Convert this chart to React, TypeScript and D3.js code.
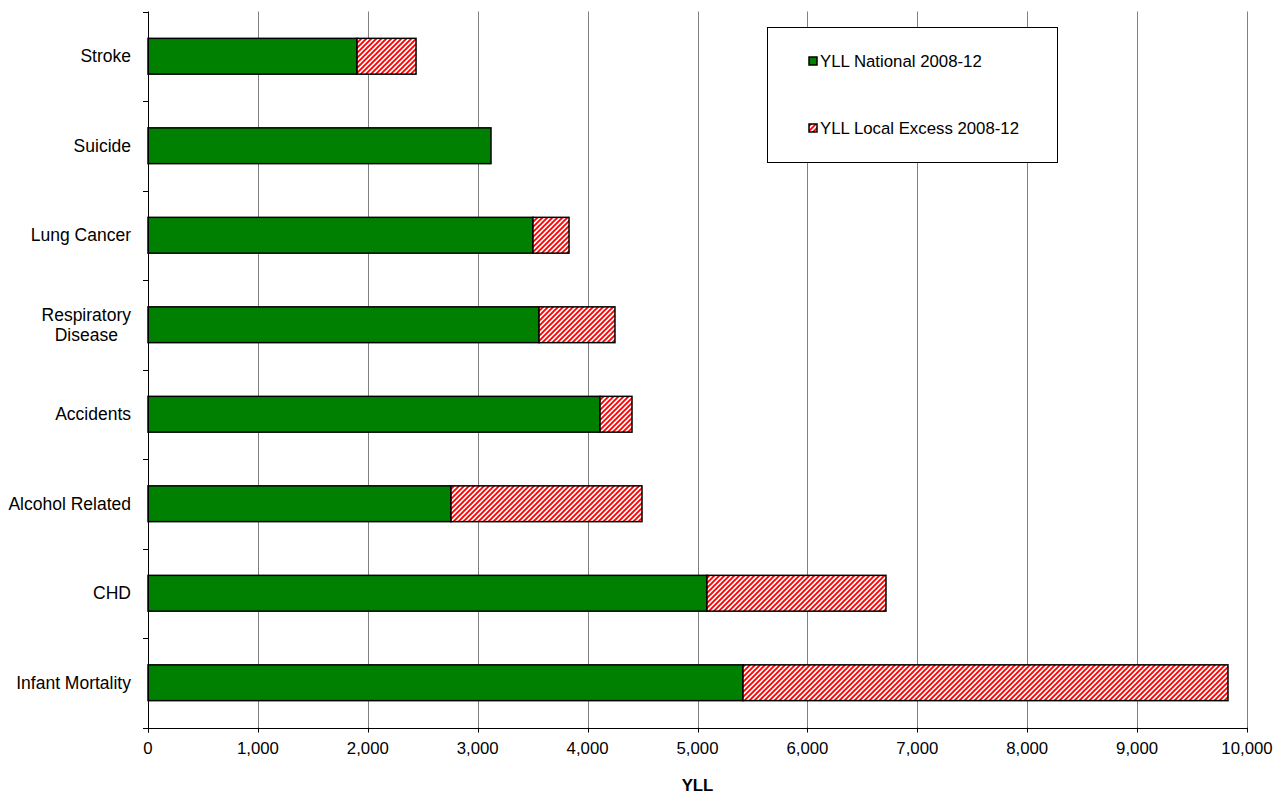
import React, { useEffect, useRef } from "react";
import * as d3 from "d3";

const categories = ["Stroke", "Suicide", "Lung Cancer", "Respiratory Disease", "Accidents", "Alcohol Related", "CHD", "Infant Mortality"];
const nationalValues = [1902, 3121, 3503, 3558, 4113, 2757, 5086, 5414];
const totalValues = [2439, 3121, 3831, 4249, 4404, 4495, 6715, 9827];
const xTicks = [0, 1000, 2000, 3000, 4000, 5000, 6000, 7000, 8000, 9000, 10000];
const seriesNames = ["YLL National 2008-12", "YLL Local Excess 2008-12"];
const axisTitle = "YLL";

const W = 1282, H = 794;
const FONT = "'Liberation Sans', Arial, sans-serif";
const FS = 16.8;
const FS_CAT = 17.5;
const GREEN = "#008000";

export default function App() {
  const ref = useRef<SVGSVGElement>(null);
  useEffect(() => {
    const svg = d3.select(ref.current);
    svg.selectAll("*").remove();
    const left = 148, right = 1247, top = 11.5, bottom = 727.5;
    const x = d3.scaleLinear().domain([0, 10000]).range([left, right]);
    const y = d3.scaleBand<string>().domain(categories).range([top, bottom]).paddingInner(0.6).paddingOuter(0.3);

    const defs = svg.append("defs");
    const P = 5;
    const pat = defs.append("pattern").attr("id", "hatch").attr("patternUnits", "userSpaceOnUse")
      .attr("width", P).attr("height", P);
    pat.append("rect").attr("width", P).attr("height", P).attr("fill", "#fff");
    pat.append("path").attr("d", `M-1,1 L1,-1 M0,${P} L${P},0 M${P - 1},${P + 1} L${P + 1},${P - 1}`)
      .attr("stroke", "#ff0000").attr("stroke-width", 1.9);

    // gridlines
    svg.append("g").selectAll("line").data(xTicks.slice(1)).join("line")
      .attr("x1", d => Math.round(x(d)) + 0.5).attr("x2", d => Math.round(x(d)) + 0.5)
      .attr("y1", top).attr("y2", bottom).attr("stroke", "#808080").attr("stroke-width", 1);

    // bars
    const bars = svg.append("g");
    bars.selectAll("rect.nat").data(categories).join("rect").attr("class", "nat")
      .attr("x", x(0)).attr("y", d => y(d)!)
      .attr("width", (d, i) => x(nationalValues[i]) - x(0)).attr("height", y.bandwidth())
      .attr("fill", GREEN).attr("stroke", "#000").attr("stroke-width", 1.5);
    bars.selectAll("rect.exc").data(categories.filter((_, i) => totalValues[i] > nationalValues[i])).join("rect").attr("class", "exc")
      .attr("x", d => x(nationalValues[categories.indexOf(d)])).attr("y", d => y(d)!)
      .attr("width", d => { const i = categories.indexOf(d); return x(totalValues[i]) - x(nationalValues[i]); })
      .attr("height", y.bandwidth())
      .attr("fill", "url(#hatch)").attr("stroke", "#000").attr("stroke-width", 1.5);

    // axes
    const ax = svg.append("g");
    ax.append("line").attr("x1", left - 5).attr("x2", right).attr("y1", Math.round(bottom) + 0.5).attr("y2", Math.round(bottom) + 0.5).attr("stroke", "#000");
    ax.append("line").attr("x1", left + 0.5).attr("x2", left + 0.5).attr("y1", top).attr("y2", bottom + 5).attr("stroke", "#000");
    ax.selectAll("line.xt").data(xTicks).join("line").attr("class", "xt")
      .attr("x1", d => Math.round(x(d)) + 0.5).attr("x2", d => Math.round(x(d)) + 0.5)
      .attr("y1", bottom).attr("y2", bottom + 5).attr("stroke", "#000");
    ax.selectAll("text.xl").data(xTicks).join("text").attr("class", "xl")
      .attr("x", d => x(d)).attr("y", 754).attr("text-anchor", "middle")
      .attr("font-family", FONT).attr("font-size", FS).attr("fill", "#000")
      .text(d => d3.format(",")(d));
    const bounds = d3.range(categories.length + 1).map(k => top + k * y.step());
    ax.selectAll("line.yt").data(bounds).join("line").attr("class", "yt")
      .attr("x1", left - 5).attr("x2", left).attr("y1", d => Math.round(d) + 0.5).attr("y2", d => Math.round(d) + 0.5)
      .attr("stroke", "#000");
    categories.forEach(c => {
      const words = c === "Respiratory Disease" ? ["Respiratory", "Disease"] : [c];
      const cy = y(c)! + y.bandwidth() / 2;
      const g = svg.append("text").attr("font-family", FONT).attr("font-size", FS_CAT).attr("fill", "#000")
        .attr("text-anchor", "middle");
      const n = words.length;
      const tspans = words.map((w, i) => g.append("tspan").attr("y", cy + (i - (n - 1) / 2) * 20 + 6).text(w));
      const maxW = Math.max(...tspans.map(t => (t.node() as SVGTSpanElement).getComputedTextLength()));
      const cx = 131 - maxW / 2;
      tspans.forEach(t => t.attr("x", cx));
    });
    svg.append("text").attr("x", (left + right) / 2).attr("y", 791).attr("text-anchor", "middle")
      .attr("font-family", FONT).attr("font-size", FS).attr("font-weight", "bold").text(axisTitle);

    // legend
    const lg = svg.append("g");
    lg.append("rect").attr("x", 767.5).attr("y", 27.5).attr("width", 290).attr("height", 135)
      .attr("fill", "#fff").attr("stroke", "#000").attr("stroke-width", 1);
    const ly = [61, 128];
    seriesNames.forEach((s, i) => {
      lg.append("rect").attr("x", 809).attr("y", ly[i] - 4).attr("width", 8).attr("height", 8)
        .attr("fill", i === 0 ? GREEN : "url(#hatch)").attr("stroke", "#000").attr("stroke-width", 1.5);
      lg.append("text").attr("x", 820).attr("y", ly[i] + 6).attr("font-family", FONT).attr("font-size", FS)
        .attr("fill", "#000").text(s);
    });
  }, []);
  return (
    <svg ref={ref} width={W} height={H} style={{ position: "absolute", left: 0, top: 0, background: "#fff" }} />
  );
}
